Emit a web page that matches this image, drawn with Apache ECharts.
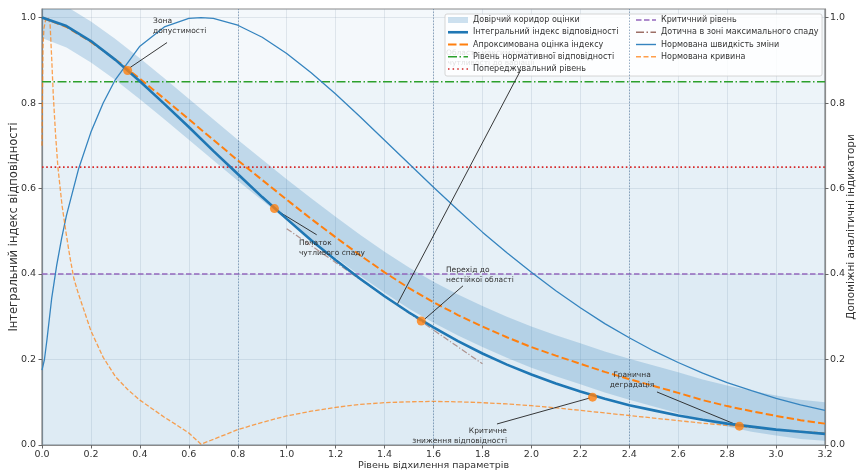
<!DOCTYPE html>
<html><head><meta charset="utf-8">
<script src="https://cdn.jsdelivr.net/npm/echarts@6/dist/echarts.min.js"></script>
<style>html,body{margin:0;padding:0;background:#fff}#c{width:857px;height:471px}</style>
</head><body><div id="c"></div>
<script>
// ---- data ----
const xGrid = [0.0,0.1,0.2,0.3,0.4,0.5,0.6,0.7,0.8,0.9,1.0,1.1,1.2,1.3,1.4,1.5,1.6,1.7,1.8,1.9,2.0,2.1,2.2,2.3,2.4,2.5,2.6,2.7,2.8,2.9,3.0,3.1,3.2];
const mainIndex = [1.000,0.980,0.945,0.901,0.851,0.798,0.744,0.688,0.634,0.580,0.529,0.479,0.433,0.389,0.348,0.310,0.275,0.243,0.214,0.188,0.165,0.144,0.125,0.108,0.093,0.081,0.069,0.059,0.050,0.043,0.036,0.031,0.026];
const approxIndex = [1.000,0.978,0.943,0.902,0.857,0.810,0.762,0.714,0.666,0.620,0.574,0.529,0.486,0.444,0.404,0.367,0.334,0.304,0.277,0.252,0.229,0.209,0.190,0.171,0.154,0.138,0.122,0.105,0.091,0.079,0.068,0.058,0.050];
const bandUpper = [1.048,1.026,0.991,0.950,0.905,0.858,0.810,0.762,0.714,0.668,0.622,0.577,0.534,0.492,0.452,0.415,0.382,0.352,0.325,0.300,0.277,0.257,0.238,0.219,0.202,0.186,0.170,0.153,0.139,0.127,0.116,0.106,0.100];
const bandLower = [0.952,0.930,0.895,0.854,0.809,0.762,0.714,0.666,0.618,0.572,0.526,0.481,0.438,0.396,0.356,0.319,0.286,0.256,0.229,0.204,0.181,0.161,0.142,0.123,0.106,0.090,0.074,0.057,0.043,0.031,0.022,0.014,0.010];
const speedX = [0,0.01,0.02,0.04,0.06,0.08,0.1,0.15,0.2,0.25,0.3,0.4,0.5,0.6,0.65,0.7,0.8,0.9,1.0,1.1,1.2,1.3,1.4,1.5,1.6,1.7,1.8,1.9,2.0,2.1,2.2,2.3,2.4,2.5,2.6,2.7,2.8,2.9,3.0,3.1,3.2];
const speedY = [0.175,0.20,0.245,0.345,0.42,0.483,0.537,0.647,0.732,0.80,0.855,0.933,0.978,0.998,1.0,0.998,0.982,0.954,0.916,0.871,0.821,0.768,0.713,0.658,0.603,0.550,0.498,0.450,0.404,0.361,0.321,0.284,0.251,0.220,0.193,0.168,0.146,0.127,0.109,0.094,0.081];
const curvX = [0,0.004,0.008,0.015,0.025,0.033,0.04,0.046,0.055,0.065,0.082,0.1,0.114,0.13,0.148,0.2,0.25,0.3,0.35,0.4,0.45,0.5,0.55,0.6,0.65,0.7,0.8,0.9,1.0,1.1,1.2,1.3,1.4,1.5,1.6,1.7,1.8,1.9,2.0,2.1,2.2,2.3,2.4,2.5,2.6,2.7,2.8,2.9,3.0,3.1,3.2];
const curvY = [0.70,0.93,0.975,0.995,1.0,0.985,0.90,0.82,0.73,0.65,0.56,0.49,0.44,0.39,0.355,0.267,0.205,0.16,0.13,0.105,0.085,0.065,0.047,0.028,0.002,0.013,0.036,0.053,0.068,0.079,0.088,0.095,0.099,0.101,0.102,0.101,0.099,0.096,0.092,0.087,0.081,0.075,0.069,0.063,0.057,0.051,0.046,0.041,0.036,0.032,0.028];
const tangentX = [1.0, 1.8];
const tangentY = [0.506, 0.190];
const levelNorm = 0.85, levelWarn = 0.65, levelCrit = 0.40;
const zoneLinesX = [0.8, 1.6, 2.4];
const markerX = [0.35, 0.95, 1.55, 2.25, 2.85];
const markerY = [0.876, 0.553, 0.290, 0.112, 0.044];
const xMin = 0, xMax = 3.2, yMax = 1.02;
const yTicks = [0, 0.2, 0.4, 0.6, 0.8, 1.0];

const names = {
  band:'Довірчий коридор оцінки', main:'Інтегральний індекс відповідності', approx:'Апроксимована оцінка індексу',
  norm:'Рівень нормативної відповідності', warn:'Попереджувальний рівень', crit:'Критичний рівень',
  tang:'Дотична в зоні максимального спаду', speed:'Нормована швидкість зміни', curv:'Нормована кривина'
};
const annotations = [
  {text:'Зона\nдопустимості', at:[0.454,0.981], align:'left', from:[0.511,0.9415], to:[0.360,0.883]},
  {text:'Початок\nчутливого спаду', at:[1.050,0.4614], align:'left', from:[1.1226,0.4918], to:[0.9685,0.5457]},
  {text:'Область максимальної\nчутливості до варіації', at:[1.835,0.9063], align:'center', from:[1.9575,0.8782], to:[1.4508,0.3279], ghost:true},
  {text:'Перехід до\nнестійкої області', at:[1.651,0.398], align:'left', from:[1.7205,0.3724], to:[1.5652,0.2951]},
  {text:'Гранична\nдеградація', at:[2.4111,0.1522], align:'center', from:[2.5133,0.1241], to:[2.8402,0.0468]},
  {text:'Критичне\nзниження відповідності', at:[1.9003,0.0211], align:'right', from:[1.8594,0.0492], to:[2.2395,0.1101]}
];

const zip = (xs, ys) => xs.map((x, i) => [x, ys[i]]);
const FONT = 'DejaVu Sans';
const bandColor = 'rgba(31,119,180,0.22)';

const chart = echarts.init(document.getElementById('c'), null, {renderer:'canvas'});

const legendCommon = {
  orient:'vertical', itemWidth:20, itemHeight:6, itemGap:0.25, padding:0, selectedMode:false,
  symbolKeepAspect:true, itemStyle:{borderWidth:0},
  textStyle:{fontSize:8, fontFamily:FONT, color:'#333', lineHeight:12}
};

const option = {
  animation:false,
  textStyle:{fontFamily:FONT},
  grid:{left:42, right:32, top:9, bottom:26, outerBoundsMode:'none', containLabel:false,
        show:true, backgroundColor:'#ffffff', borderColor:'#8a8a8a', borderWidth:1.2},
  legend:[
    Object.assign({left:448, top:14, data:[
      {name:names.band, icon:'path://M0,0h20v6h-20z', itemStyle:{color:bandColor}},
      {name:names.main, icon:'path://M0,0h20v2.6h-20z', itemStyle:{color:'#1f77b4'}},
      {name:names.approx, icon:'path://M0,0h8.5v2h-8.5z M11.5,0h8.5v2h-8.5z', itemStyle:{color:'#ff7f0e'}},
      {name:names.norm, icon:'path://M0,0h9v1.5h-9z M11.5,0h1.5v1.5h-1.5z M15.5,0h4.5v1.5h-4.5z', itemStyle:{color:'#2ca02c'}},
      {name:names.warn, icon:'path://M0,0h1.5v1.5h-1.5z M4.6,0h1.5v1.5h-1.5z M9.25,0h1.5v1.5h-1.5z M13.9,0h1.5v1.5h-1.5z M18.5,0h1.5v1.5h-1.5z', itemStyle:{color:'#d62728'}}
    ]}, legendCommon),
    Object.assign({left:636, top:14, data:[
      {name:names.crit, icon:'path://M0,0h5.5v1.5h-5.5z M8,0h5.5v1.5h-5.5z M16,0h4v1.5h-4z', itemStyle:{color:'#9467bd'}},
      {name:names.tang, icon:'path://M0,0h8v1.3h-8z M10.5,0h1.5v1.3h-1.5z M14.5,0h5.5v1.3h-5.5z', itemStyle:{color:'rgba(140,86,75,0.85)'}},
      {name:names.speed, icon:'path://M0,0h20v1.4h-20z', itemStyle:{color:'#3584bf'}},
      {name:names.curv, icon:'path://M0,0h5v1.4h-5z M7.5,0h5v1.4h-5z M15,0h5v1.4h-5z', itemStyle:{color:'rgba(255,127,14,0.75)'}}
    ]}, legendCommon)
  ],
  xAxis:{
    type:'value', min:xMin, max:xMax, interval:0.2,
    name:'Рівень відхилення параметрів', nameLocation:'middle', nameGap:16, nameMoveOverlap:false,
    nameTextStyle:{fontSize:9.5, color:'#333', fontFamily:FONT},
    axisLine:{show:true, onZero:false, lineStyle:{color:'#8a8a8a', width:1.2}},
    axisTick:{show:true, length:3.5, lineStyle:{color:'#666'}},
    axisLabel:{fontSize:9.5, color:'#333', margin:5, formatter:v=>v.toFixed(1)},
    splitLine:{show:true, lineStyle:{color:'rgba(150,165,180,0.28)', width:0.8}}
  },
  yAxis:[
    {type:'value', min:0, max:yMax,
     name:'Інтегральний індекс відповідності', nameLocation:'middle', nameGap:22, nameRotate:90, nameMoveOverlap:false,
     nameTextStyle:{fontSize:11.5, color:'#333', fontFamily:FONT},
     axisLine:{show:true, lineStyle:{color:'#8a8a8a', width:1.2}},
     axisTick:{show:true, length:3.5, customValues:yTicks, lineStyle:{color:'#666'}},
     axisLabel:{fontSize:9.5, color:'#333', margin:6, customValues:yTicks, formatter:v=>v.toFixed(1)},
     splitLine:{show:true, lineStyle:{color:'rgba(150,165,180,0.28)', width:0.8}}},
    {type:'value', min:0, max:yMax, position:'right',
     name:'Допоміжні аналітичні індикатори', nameLocation:'middle', nameGap:21, nameRotate:90, nameMoveOverlap:false,
     nameTextStyle:{fontSize:10.5, color:'#333', fontFamily:FONT},
     axisLine:{show:true, lineStyle:{color:'#8a8a8a', width:1.2}},
     axisTick:{show:true, length:3.5, customValues:yTicks, lineStyle:{color:'#666'}},
     axisLabel:{fontSize:9.5, color:'#333', margin:5, customValues:yTicks, formatter:v=>v.toFixed(1)},
     splitLine:{show:false}}
  ],
  series:[
    {type:'line', name:'_zones', data:[[xMin,0]], symbol:'none', silent:true, z:1,
     lineStyle:{opacity:0},
     markArea:{silent:true, data:[
       [{yAxis:levelNorm, itemStyle:{color:'rgba(31,119,180,0.05)'}},{yAxis:yMax}],
       [{yAxis:levelWarn, itemStyle:{color:'rgba(31,119,180,0.08)'}},{yAxis:levelNorm}],
       [{yAxis:levelCrit, itemStyle:{color:'rgba(31,119,180,0.11)'}},{yAxis:levelWarn}],
       [{yAxis:0, itemStyle:{color:'rgba(31,119,180,0.15)'}},{yAxis:levelCrit}]
     ]},
     markLine:{silent:true, symbol:['none','none'], label:{show:false},
       lineStyle:{color:'rgba(70,110,150,0.6)', width:0.9, type:[1.5,1.5]},
       data:zoneLinesX.map(v=>({xAxis:v}))}
    },
    {type:'custom', name:names.band, z:2, silent:true,
     data:xGrid.map((x,i)=>[x, bandLower[i], bandUpper[i]]),
     encode:{x:0, y:[1,2]},
     itemStyle:{color:bandColor},
     renderItem:(params, api)=>{
       if (params.dataIndex !== 0) return null;
       const pts = [];
       for (let i = 0; i < xGrid.length; i++) pts.push(api.coord([xGrid[i], bandUpper[i]]));
       for (let i = xGrid.length - 1; i >= 0; i--) pts.push(api.coord([xGrid[i], bandLower[i]]));
       const cs = params.coordSys;
       return {type:'polygon', shape:{points:pts}, style:{fill:bandColor},
               clipPath:{type:'rect', shape:{x:cs.x, y:cs.y, width:cs.width, height:cs.height}}};
     }},
    {type:'line', name:names.norm, data:[[xMin,levelNorm],[xMax,levelNorm]], symbol:'none', z:3,
     color:'#2ca02c', lineStyle:{color:'#2ca02c', width:1.5, type:[9,2.5,1.5,2.5]}},
    {type:'line', name:names.warn, data:[[xMin,levelWarn],[xMax,levelWarn]], symbol:'none', z:3,
     color:'#d62728', lineStyle:{color:'#d62728', width:1.6, type:[1.6,2.6]}},
    {type:'line', name:names.crit, data:[[xMin,levelCrit],[xMax,levelCrit]], symbol:'none', z:3,
     color:'#9467bd', lineStyle:{color:'#9467bd', width:1.3, type:[5.5,2.5]}},
    {type:'line', name:names.tang, data:zip(tangentX, tangentY), symbol:'none', z:3,
     color:'#8c564b', lineStyle:{color:'#8c564b', opacity:0.6, width:1.2, type:[6,2,1.2,2]}},
    {type:'line', name:names.speed, yAxisIndex:1, data:zip(speedX, speedY), symbol:'none', z:3,
     smooth:false,
     color:'#3584bf', lineStyle:{color:'#3584bf', width:1.3}},
    {type:'line', name:names.curv, yAxisIndex:1, data:zip(curvX, curvY), symbol:'none', z:3,
     color:'#ff7f0e', lineStyle:{color:'#ff7f0e', opacity:0.72, width:1.3, type:[4.5,2]}},
    {type:'line', name:names.approx, data:zip(xGrid, approxIndex), symbol:'none', z:4,
     smooth:false,
     color:'#ff7f0e', lineStyle:{color:'#ff7f0e', width:2, type:[7.4,3.2]}},
    {type:'line', name:names.main, data:zip(xGrid, mainIndex), symbol:'none', z:5,
     smooth:false,
     color:'#1f77b4', lineStyle:{color:'#1f77b4', width:2.6}},
    {type:'scatter', name:'_points', data:zip(markerX, markerY), symbol:'circle', symbolSize:9, z:6,
     itemStyle:{color:'#ff7f0e'}, silent:true},
    {type:'line', name:'_arrows', data:[[xMin,0]], symbol:'none', silent:true, z:2,
     lineStyle:{opacity:0},
     markLine:{silent:true, symbol:['none','arrow'], symbolSize:[0,6], label:{show:false},
       lineStyle:{color:'#222', width:0.9, type:'solid'},
       data:annotations.map(a=>[{coord:a.from},{coord:a.to}])}}
  ]
};
chart.setOption(option);

// annotation texts and legend frame
const g = [];
annotations.forEach(a => {
  const p = chart.convertToPixel({xAxisIndex:0, yAxisIndex:0}, a.at);
  g.push({type:'text', x:p[0], y:p[1], z:a.ghost ? 0 : 7,
    style:{text:a.text, fill:a.ghost ? '#555' : '#333', font:'7.5px "DejaVu Sans"', align:a.align,
           verticalAlign:'middle', lineHeight:10}});
});
g.push({type:'rect', z:3, shape:{x:445, y:14, width:377, height:62, r:2},
        style:{fill:'rgba(255,255,255,0.82)', stroke:'#cccccc', lineWidth:0.8}});
chart.setOption({graphic:g});
</script>
</body></html>
